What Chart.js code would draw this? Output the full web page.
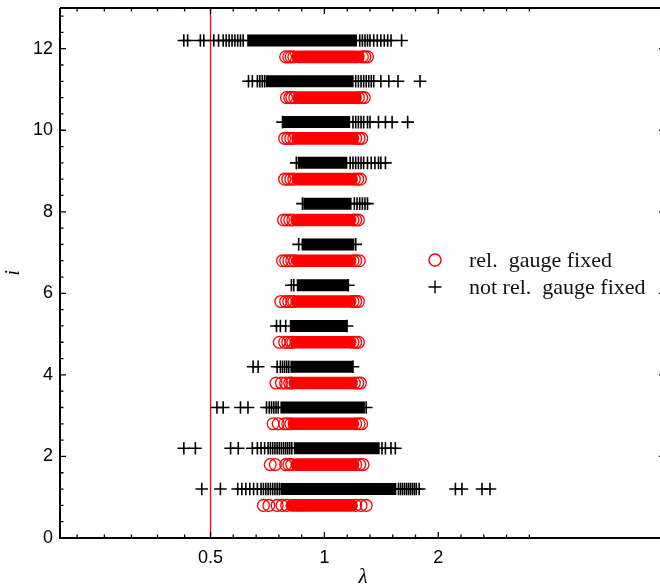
<!DOCTYPE html>
<html>
<head>
<meta charset="utf-8">
<script src="https://cdn.jsdelivr.net/npm/chart.js@4.4.1/dist/chart.umd.min.js"></script>
<style>
  html, body { margin: 0; padding: 0; background: #fff; overflow: hidden; width: 660px; height: 585px; }
  #wrap { position: relative; width: 680px; height: 585px; }
</style>
</head>
<body>
<div id="wrap"><canvas id="c" width="680" height="585"></canvas></div>
<script>
// Row index i (vertical axis)
const rowIndex = [1, 2, 3, 4, 5, 6, 7, 8, 9, 10, 11, 12];

// "rel. gauge fixed": dense core range of lambda per row, and isolated samples at the edges
const fixedCoreLo = [0.82, 0.845, 0.83, 0.835, 0.84, 0.845, 0.85, 0.845, 0.85, 0.85, 0.855, 0.85];
const fixedCoreHi = [1.18, 1.19, 1.19, 1.18, 1.17, 1.17, 1.17, 1.17, 1.18, 1.19, 1.21, 1.23];
const fixedTails = [
  [0.69, 0.713, 0.75, 0.773, 0.795, 1.21, 1.25, 1.29],
  [0.719, 0.742, 0.79, 0.805, 0.82, 1.21, 1.24, 1.265],
  [0.732, 0.755, 0.785, 0.80, 0.815, 1.21, 1.235, 1.255],
  [0.745, 0.77, 0.79, 0.81, 0.82, 1.20, 1.225, 1.245],
  [0.76, 0.785, 0.80, 0.815, 0.825, 1.19, 1.21, 1.23],
  [0.767, 0.79, 0.805, 0.82, 0.83, 1.19, 1.21, 1.23],
  [0.775, 0.79, 0.805, 0.82, 0.835, 1.19, 1.21, 1.237],
  [0.78, 0.795, 0.81, 0.825, 1.19, 1.21, 1.23],
  [0.785, 0.80, 0.815, 0.83, 1.20, 1.225, 1.245],
  [0.785, 0.80, 0.815, 0.83, 1.21, 1.235, 1.255],
  [0.794, 0.81, 0.82, 0.835, 1.23, 1.255, 1.275],
  [0.79, 0.805, 0.817, 0.83, 1.26, 1.28, 1.30]
];

// "not rel. gauge fixed": dense core range and isolated samples
const freeCoreLo = [0.765, 0.83, 0.765, 0.813, 0.81, 0.845, 0.87, 0.88, 0.85, 0.775, 0.70, 0.625];
const freeCoreHi = [1.55, 1.40, 1.28, 1.19, 1.148, 1.157, 1.20, 1.18, 1.15, 1.17, 1.195, 1.22];
const freeTails = [
  [0.474, 0.531, 0.59, 0.605, 0.62, 0.635, 0.65, 0.665, 0.68, 0.69, 0.70, 0.71, 0.72, 0.73, 0.74, 0.75, 0.76,
   1.57, 1.59, 1.61, 1.63, 1.65, 1.67, 1.69, 1.71, 1.73, 1.75, 1.78, 2.22, 2.31, 2.61, 2.74],
  [0.425, 0.456, 0.565, 0.592, 0.645, 0.665, 0.68, 0.695, 0.71, 0.72, 0.73, 0.74, 0.75, 0.76, 0.77, 0.78,
   0.79, 0.80, 0.81, 0.82, 1.42, 1.45, 1.50, 1.54],
  [0.52, 0.54, 0.60, 0.628, 0.703, 0.715, 0.725, 0.735, 0.745, 0.755, 1.29],
  [0.648, 0.668, 0.75, 0.765, 0.775, 0.785, 0.795, 0.805, 1.19],
  [0.747, 0.765, 0.79, 1.148],
  [0.818, 0.83, 1.157],
  [0.855, 1.21],
  [0.875, 1.20, 1.22, 1.24, 1.26, 1.28, 1.30],
  [0.843, 1.17, 1.19, 1.21, 1.23, 1.25, 1.27, 1.30, 1.33, 1.36, 1.39, 1.41, 1.45],
  [0.775, 1.19, 1.21, 1.23, 1.25, 1.27, 1.30, 1.32, 1.39, 1.45, 1.51, 1.66],
  [0.63, 0.645, 0.665, 0.675, 0.685, 0.695, 1.21, 1.23, 1.25, 1.27, 1.29, 1.31, 1.33, 1.35, 1.41, 1.48, 1.565, 1.79],
  [0.425, 0.435, 0.47, 0.48, 0.51, 0.525, 0.54, 0.55, 0.56, 0.57, 0.58, 0.59, 0.60, 0.61,
   1.24, 1.26, 1.28, 1.30, 1.32, 1.35, 1.38, 1.41, 1.44, 1.47, 1.50, 1.60]
];

// Axes
const xTickLabels = [0.5, 1, 2];
const xMinorTicks = [0.222, 0.262, 0.309, 0.362, 0.427, 0.574, 0.66, 0.758, 0.871, 1.149, 1.32, 1.516, 1.741, 2.297, 2.639, 3.031, 3.482];
const yTickLabels = [0, 2, 4, 6, 8, 10, 12];
const xRange = [0.2, 8];
const yRange = [0, 13];
const cutValue = 0.5;          // vertical reference line
const rowShift = 0.2;          // the two series sit just below / above each integer row

const RED = '#ff0000';
const BLACK = '#000000';

const datasets = [];

datasets.push({
  type: 'line', label: 'cut', order: 100,
  data: [{ x: cutValue, y: yRange[0] }, { x: cutValue, y: yRange[1] }],
  borderColor: RED, borderWidth: 1.3, pointRadius: 0
});

rowIndex.forEach((r, k) => {
  datasets.push({
    type: 'line', label: 'fixed-core', order: 60,
    data: [{ x: fixedCoreLo[k], y: r - rowShift }, { x: fixedCoreHi[k], y: r - rowShift }],
    borderColor: RED, borderWidth: 12.6, borderCapStyle: 'round', pointRadius: 0
  });
});

datasets.push({
  type: 'scatter', label: 'rel. gauge fixed', order: 50,
  data: rowIndex.flatMap((r, k) => fixedTails[k].map(v => ({ x: v, y: r - rowShift }))),
  pointStyle: 'circle', pointRadius: 5.9, borderWidth: 1.3,
  borderColor: RED, backgroundColor: 'rgba(0,0,0,0)'
});

rowIndex.forEach((r, k) => {
  datasets.push({
    type: 'line', label: 'free-core', order: 30,
    data: [{ x: freeCoreLo[k], y: r + rowShift }, { x: freeCoreHi[k], y: r + rowShift }],
    borderColor: BLACK, borderWidth: 12, borderCapStyle: 'butt', pointRadius: 0
  });
});

datasets.push({
  type: 'scatter', label: 'not rel. gauge fixed', order: 20,
  data: rowIndex.flatMap((r, k) => freeTails[k].map(v => ({ x: v, y: r + rowShift }))),
  pointStyle: 'cross', pointRadius: 6.3, borderWidth: 1.6,
  borderColor: BLACK, backgroundColor: BLACK
});

// Frame, inward tick marks, axis titles and the legend
const decorations = {
  id: 'decorations',
  afterDatasetsDraw(chart) {
    const ctx = chart.ctx;
    const a = chart.chartArea;
    const xs = chart.scales.x, ys = chart.scales.y;
    ctx.save();
    ctx.strokeStyle = BLACK;

    // ticks
    ctx.lineWidth = 1.3;
    ctx.beginPath();
    const xt = (v, len) => {
      const p = xs.getPixelForValue(v);
      ctx.moveTo(p, a.bottom); ctx.lineTo(p, a.bottom - len);
      ctx.moveTo(p, a.top); ctx.lineTo(p, a.top + len);
    };
    xTickLabels.forEach(v => xt(v, 6));
    xMinorTicks.forEach(v => xt(v, 3.5));
    const yt = (v, len, rlen) => {
      const p = ys.getPixelForValue(v);
      ctx.moveTo(a.left, p); ctx.lineTo(a.left + len, p);
      ctx.moveTo(a.right, p); ctx.lineTo(a.right - rlen, p);
    };
    yTickLabels.forEach(v => yt(v, 6, 7));
    for (let v = 0.4; v < yRange[1]; v += 0.4) {
      if (Math.abs(v / 2 - Math.round(v / 2)) > 1e-6) yt(v, 3.5, 3.5);
    }
    ctx.stroke();

    // frame
    ctx.lineWidth = 2;
    ctx.beginPath();
    ctx.moveTo(a.left, a.top); ctx.lineTo(a.left, a.bottom);
    ctx.lineTo(a.right, a.bottom); ctx.lineTo(a.right, a.top);
    ctx.lineTo(a.left, a.top);
    ctx.stroke();

    // axis titles
    ctx.fillStyle = BLACK;
    ctx.font = 'italic 21px "Liberation Serif", serif';
    ctx.textAlign = 'center';
    ctx.textBaseline = 'alphabetic';
    ctx.fillText('\u03bb', (a.left + a.right) / 2, 583);
    ctx.save();
    ctx.translate(19, (a.top + a.bottom) / 2);
    ctx.rotate(-Math.PI / 2);
    ctx.fillText('i', 0, 0);
    ctx.restore();

    // legend
    const lx = 435, ly1 = 260, ly2 = 287, tx = 469;
    ctx.lineWidth = 1.4;
    ctx.strokeStyle = RED;
    ctx.beginPath(); ctx.arc(lx, ly1, 6, 0, Math.PI * 2); ctx.stroke();
    ctx.strokeStyle = BLACK;
    ctx.beginPath();
    ctx.moveTo(lx - 6.5, ly2); ctx.lineTo(lx + 6.5, ly2);
    ctx.moveTo(lx, ly2 - 6.5); ctx.lineTo(lx, ly2 + 6.5);
    ctx.stroke();
    ctx.font = '22px "Liberation Serif", serif';
    ctx.textAlign = 'left';
    ctx.fillStyle = '#111';
    ctx.fillText('rel.  gauge fixed', tx, 267);
    ctx.fillText('not rel.  gauge fixed', tx, 294);
    ctx.restore();
  }
};

Chart.defaults.font.family = '"Liberation Sans", Arial, sans-serif';
Chart.defaults.color = '#000';

new Chart(document.getElementById('c'), {
  type: 'scatter',
  data: { datasets },
  plugins: [decorations],
  options: {
    responsive: false,
    devicePixelRatio: 1,
    animation: false,
    events: [],
    layout: { padding: { top: 7, right: 14, left: 0, bottom: 0 } },
    plugins: { legend: { display: false }, tooltip: { enabled: false } },
    scales: {
      x: {
        type: 'logarithmic', position: 'bottom',
        min: xRange[0], max: xRange[1],
        grid: { display: false, drawTicks: false },
        border: { display: false },
        ticks: {
          font: { size: 18 }, color: '#000', padding: 9,
          autoSkip: false, maxRotation: 0,
          callback: v => String(v)
        },
        afterBuildTicks: s => { s.ticks = xTickLabels.map(v => ({ value: v })); },
        afterFit: s => { s.height = 47; s.paddingLeft = 0; s.paddingRight = 0; }
      },
      y: {
        type: 'linear', position: 'left',
        min: yRange[0], max: yRange[1],
        grid: { display: false, drawTicks: false },
        border: { display: false },
        ticks: { font: { size: 18 }, color: '#000', padding: 7 },
        afterBuildTicks: s => { s.ticks = yTickLabels.map(v => ({ value: v })); },
        afterFit: s => { s.width = 60; s.paddingTop = 0; s.paddingBottom = 0; }
      }
    }
  }
});
</script>
</body>
</html>
